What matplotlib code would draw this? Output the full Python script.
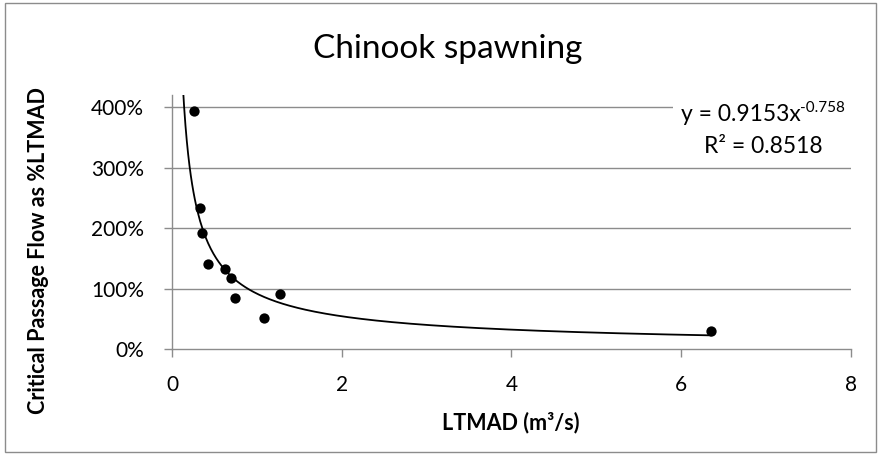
import numpy as np
import matplotlib
matplotlib.use("Agg")
import matplotlib.pyplot as plt
from matplotlib.ticker import PercentFormatter
from matplotlib.patches import Rectangle

plt.rcParams['font.family'] = ['Lato', 'DejaVu Sans']

# Data
ltmad = [0.26, 0.33, 0.35, 0.43, 0.63, 0.69, 0.74, 1.08, 1.27, 6.35]
crit_pct = [3.93, 2.33, 1.91, 1.40, 1.32, 1.18, 0.85, 0.51, 0.91, 0.29]
fit_a = 0.9153
fit_b = -0.758
r2 = 0.8518
title = "Chinook spawning"
xlabel = "LTMAD (m³/s)"
ylabel = "Critical Passage Flow as %LTMAD"
xticks = [0, 2, 4, 6, 8]
yticks = [0, 1, 2, 3, 4]

W, H = 879, 455
fig = plt.figure(figsize=(W/100, H/100), dpi=100)
ax = fig.add_axes([172/W, 1-349/H, (851-172)/W, (349-95)/H])

grid_c = '#8c8c8c'
for yv in yticks[1:]:
    ax.axhline(yv, color=grid_c, lw=1.0, zorder=1)

xs = np.linspace(0.08, max(ltmad), 400)
ax.plot(xs, fit_a * xs ** fit_b, color='black', lw=1.3, zorder=2)
ax.scatter(ltmad, crit_pct, s=55, color='black', zorder=3, linewidths=0)

ax.set_xlim(0, 8)
ax.set_ylim(0, 4.2)
ax.set_xticks(xticks)
ax.set_yticks(yticks)
ax.yaxis.set_major_formatter(PercentFormatter(1.0, decimals=0))
for s in ['top', 'right']:
    ax.spines[s].set_visible(False)
for s in ['left', 'bottom']:
    ax.spines[s].set_color(grid_c)
    ax.spines[s].set_linewidth(1.0)
ax.tick_params(axis='both', colors=grid_c, labelcolor='black', length=6, width=1.0, labelsize=15)
ax.tick_params(axis='x', pad=13)
ax.tick_params(axis='y', pad=14)

fig.text(511/W, 1-423/H, xlabel, ha='center', va='center', fontsize=15.5, fontweight='bold')
fig.text(39/W, 1-251/H, ylabel, ha='center', va='center', rotation=90, fontsize=15.5, fontweight='bold')
fig.text(448/W, 1-58/H, title, ha='center', va='baseline', fontsize=24)

# Trendline equation: main text + raised exponent with a plain hyphen
renderer = fig.canvas.get_renderer()
main = fig.text(0, 1-121/H, "y = %.4fx" % fit_a, ha='left', va='baseline', fontsize=16.5, zorder=5)
sup = fig.text(0, 1-112/H, "%.3f" % fit_b, ha='left', va='baseline', fontsize=11, zorder=5)
wm = main.get_window_extent(renderer).width
ws = sup.get_window_extent(renderer).width
x0 = 763 - (wm + ws) / 2
main.set_x(x0 / W)
sup.set_x((x0 + wm) / W)
fig.text(763/W, 1-153/H, "R² = %.4f" % r2, ha='center', va='baseline', fontsize=16.5, zorder=5)
fig.patches.append(Rectangle(((x0 - 8)/W, 1-126/H), (851 - x0 + 8)/W, 30/H, transform=fig.transFigure,
                             facecolor='white', edgecolor='none', zorder=4))

fig.patches.append(Rectangle((5/W, 3/H), 871/W, 449/H, transform=fig.transFigure,
                             fill=False, edgecolor='#8c8c8c', lw=1.0))

fig.savefig('out.png', dpi=100)
